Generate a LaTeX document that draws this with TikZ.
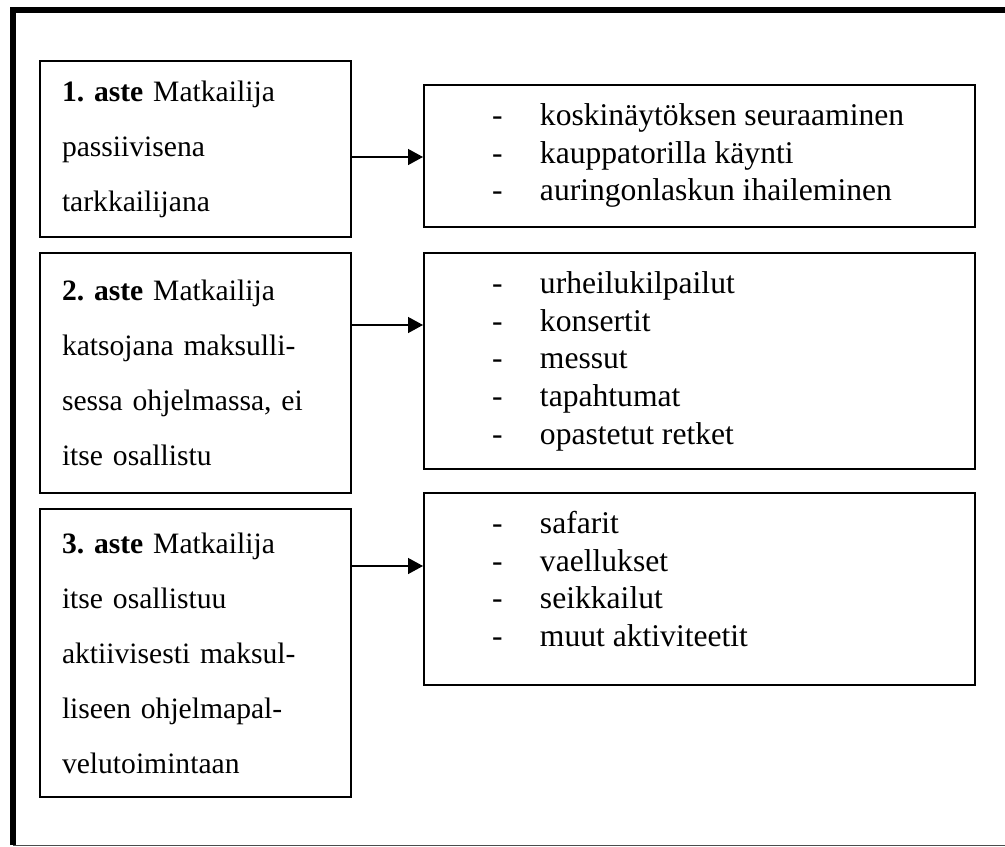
\documentclass[tikz,border=0pt]{standalone}
\usepackage{fontspec}
\setmainfont{Liberation Serif}
\usetikzlibrary{arrows.meta}

\begin{document}
\begin{tikzpicture}[x=0.5pt,y=-0.5pt,line width=1pt,
	lbox/.style={draw,minimum width=155.5pt,text width=133.5pt,align=left,inner sep=0pt,font=\fontsize{14.8}{27.5}\selectfont},
	rbox/.style={draw,minimum width=275.5pt,inner sep=0pt},
	rlist/.style={anchor=north west,align=left,inner sep=0pt,font=\fontsize{15.8}{18.9}\selectfont},
	link/.style={-{Triangle[length=7.5pt,width=8pt]},line width=0.7pt}]
\newcommand{\litem}[1]{\strut\makebox[24pt][l]{-}#1}

\useasboundingbox (0,0) rectangle (1005,846);
\draw[line width=3pt] (13,845) -- (13,10) -- (1005,10);
\draw[line width=0.5pt,black!70] (13,845) -- (1005,845);

\node[lbox,minimum height=88pt]  (l1) at (195.5,149) {\textbf{1.\ aste} Matkailija\\passiivisena\\tarkkailijana};
\node[lbox,minimum height=120pt] (l2) at (195.5,373) {\textbf{2.\ aste} Matkailija\\katsojana maksulli-\\sessa ohjelmassa, ei\\itse osallistu};
\node[lbox,minimum height=144pt] (l3) at (195.5,653) {\textbf{3.\ aste} Matkailija\\itse osallistuu\\aktiivisesti maksul-\\liseen ohjelmapal-\\velutoimintaan};

\node[rbox,minimum height=71pt]  (r1) at (699.5,156) {};
\node[rbox,minimum height=108pt] (r2) at (699.5,361) {};
\node[rbox,minimum height=96pt]  (r3) at (699.5,589) {};

\node[rlist] (t1) at ([xshift=34pt,yshift=-6.9pt]r1.north west) {\litem{koskinäytöksen seuraaminen}\\\litem{kauppatorilla käynti}\\\litem{auringonlaskun ihaileminen}};
\node[rlist] (t2) at ([xshift=34pt,yshift=-6.9pt]r2.north west) {\litem{urheilukilpailut}\\\litem{konsertit}\\\litem{messut}\\\litem{tapahtumat}\\\litem{opastetut retket}};
\node[rlist] (t3) at ([xshift=34pt,yshift=-6.9pt]r3.north west) {\litem{safarit}\\\litem{vaellukset}\\\litem{seikkailut}\\\litem{muut aktiviteetit}};

\coordinate (a1) at (0,157);
\coordinate (a2) at (0,325);
\coordinate (a3) at (0,566);
\draw[link] (l1.east |- a1) -- (r1.west |- a1);
\draw[link] (l2.east |- a2) -- (r2.west |- a2);
\draw[link] (l3.east |- a3) -- (r3.west |- a3);
\end{tikzpicture}
\end{document}
